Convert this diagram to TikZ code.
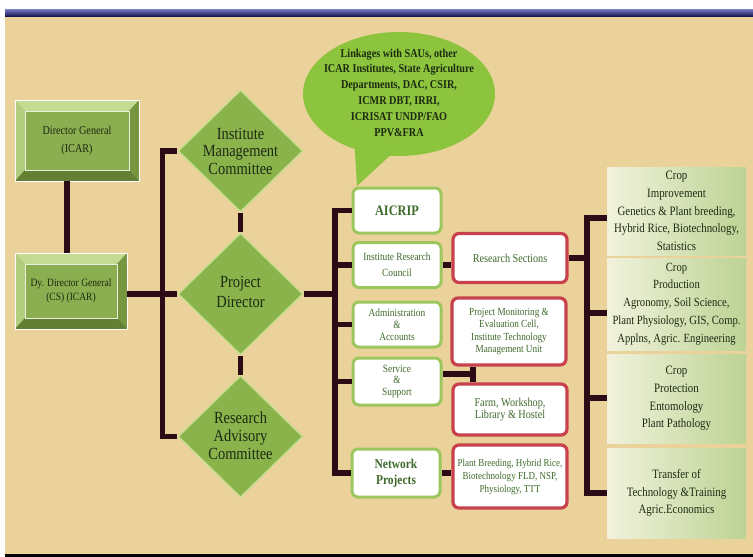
\documentclass[tikz,border=0pt]{standalone}
\usepackage{fontspec}
\setmainfont{Liberation Serif}[FakeStretch=0.85]
\usetikzlibrary{shapes.geometric,shapes.callouts}
\definecolor{bg}{HTML}{EBD29B}
\definecolor{barlight}{HTML}{7C7ECB}
\definecolor{bardark}{HTML}{17174E}
\definecolor{dmfill}{HTML}{8AB34C}
\definecolor{dmline}{HTML}{C9DD8E}
\definecolor{bubble}{HTML}{8CC43E}
\definecolor{dgfill}{HTML}{8BAE50}
\definecolor{bevtop}{HTML}{C4DB94}
\definecolor{bevleft}{HTML}{B2CD7E}
\definecolor{bevright}{HTML}{76973F}
\definecolor{bevbot}{HTML}{637F33}
\definecolor{conn}{HTML}{2B0B16}
\definecolor{gline}{HTML}{9CC75E}
\definecolor{rline}{HTML}{C8414C}
\definecolor{tdark}{HTML}{1C2A12}
\definecolor{tgreen}{HTML}{3E6A2A}
\definecolor{rbl}{HTML}{F1F2DC}
\definecolor{rbr}{HTML}{BDD394}
\newcommand{\fs}[2]{\fontsize{#1}{#2}\selectfont}
\tikzset{
  connline/.style={draw=conn, line width=5.5pt, line join=miter},
  dgbox/.style={rectangle, draw=white, line width=0.8pt, fill=dgfill, inner sep=0pt, align=center, text=tdark,
    path picture={
      \fill[bevtop] (path picture bounding box.north west) -- (path picture bounding box.north east)
        -- ([shift={(-10pt,-11pt)}]path picture bounding box.north east) -- ([shift={(10pt,-11pt)}]path picture bounding box.north west) -- cycle;
      \fill[bevleft] (path picture bounding box.north west) -- (path picture bounding box.south west)
        -- ([shift={(10pt,11pt)}]path picture bounding box.south west) -- ([shift={(10pt,-11pt)}]path picture bounding box.north west) -- cycle;
      \fill[bevright] (path picture bounding box.north east) -- (path picture bounding box.south east)
        -- ([shift={(-10pt,11pt)}]path picture bounding box.south east) -- ([shift={(-10pt,-11pt)}]path picture bounding box.north east) -- cycle;
      \fill[bevbot] (path picture bounding box.south west) -- (path picture bounding box.south east)
        -- ([shift={(-10pt,11pt)}]path picture bounding box.south east) -- ([shift={(10pt,11pt)}]path picture bounding box.south west) -- cycle;
      \draw[white!80!dgfill, line width=0.6pt] ([shift={(10pt,-11pt)}]path picture bounding box.north west) rectangle ([shift={(-10pt,11pt)}]path picture bounding box.south east);
    }},
  dmnd/.style={diamond, fill=dmfill, draw=dmline, line width=1.5pt, minimum width=125pt, minimum height=122pt, inner sep=0pt},
  dmtext/.style={align=center, text=tdark},
  gbox/.style={rectangle, rounded corners=6pt, draw=gline, line width=3pt, fill=white, minimum width=88pt, inner sep=0pt, align=center, text=tgreen},
  rbox/.style={rectangle, rounded corners=6pt, draw=rline, line width=3.2pt, fill=white, minimum width=114pt, inner sep=0pt, align=center, text=tgreen},
  sbox/.style={rectangle, left color=rbl, right color=rbr, minimum width=139pt, inner sep=0pt, align=center, text=tdark}
}
\begin{document}
\begin{tikzpicture}[x=1pt,y=-1pt]
\useasboundingbox (0,0) rectangle (753,557);
\fill[white] (0,0) rectangle (753,557);
\fill[bg] (5,16) rectangle (753,554);
\shade[top color=barlight, bottom color=bardark] (5,9) rectangle (753,16);
\fill[black] (5,554) rectangle (753,557);

% left boxes
\node[dgbox, minimum width=124pt, minimum height=81pt, font=\fs{12}{18}] (DG) at (77,140.5)
  {Director General\\(ICAR)};
\node[dgbox, minimum width=112pt, minimum height=76pt, font=\fs{11.2}{14}] (DDG) at (71,291)
  {Dy. Director General\\(CS) (ICAR)};

% diamonds
\node[dmnd, label={[dmtext, name=IMCt, font=\fs{17}{17.5}]center:{Institute\\Management\\Committee}}] (IMC) at (240.5,151) {};
\node[dmnd, label={[dmtext, name=PDt, yshift=2pt, font=\fs{17}{20}]center:{Project\\Director}}] (PD) at (240.5,294) {};
\node[dmnd, label={[dmtext, name=RACt, yshift=1pt, font=\fs{17}{18}]center:{Research\\Advisory\\Committee}}] (RAC) at (240.5,436.5) {};

% bubble
\node[ellipse callout, fill=bubble, minimum width=192pt, minimum height=124pt, callout absolute pointer={(357,186)}, callout pointer arc=22,
  label={[align=center, text=tdark, name=BUBt, yshift=1.5pt, font=\bfseries\fs{12}{15.8}]center:{Linkages with SAUs, other\\ICAR Institutes, State Agriculture\\Departments, DAC, CSIR,\\ICMR DBT, IRRI,\\ICRISAT UNDP/FAO\\PPV\&FRA}}] (BUB) at (399,94) {};

% green boxes
\node[gbox, minimum height=45pt, font=\bfseries\fs{14.5}{16}] (AIC) at (397,210.5) {AICRIP};
\node[gbox, minimum height=45pt, font=\fs{11}{16}] (IRC) at (397,265) {Institute Research\\Council};
\node[gbox, minimum height=45pt, font=\fs{11}{12}] (ADM) at (397,324.5) {Administration\\\&\\Accounts};
\node[gbox, minimum height=47pt, font=\fs{11}{11.5}] (SER) at (397,381.5) {Service\\\&\\Support};
\node[gbox, minimum height=48pt, font=\bfseries\fs{13.5}{16}] (NP) at (396,473) {Network\\Projects};

% red boxes
\node[rbox, minimum height=49pt, font=\fs{12}{14}] (RS) at (510,258) {Research Sections};
\node[rbox, minimum height=67pt, font=\fs{10.8}{12.3}] (PMEC) at (509,331.5) {Project Monitoring \&\\Evaluation Cell,\\Institute Technology\\Management Unit};
\node[rbox, minimum height=51pt, font=\fs{12}{12.5}] (FARM) at (510,409.5) {Farm, Workshop,\\Library \& Hostel};
\node[rbox, minimum height=63pt, font=\fs{10.6}{13}] (PB) at (510,476.5) {Plant Breeding, Hybrid Rice,\\Biotechnology FLD, NSP,\\Physiology, TTT};

% right boxes
\node[sbox, minimum height=88pt, font=\fs{12.8}{17.7}] (CI) at (676.5,211) {Crop\\Improvement\\Genetics \& Plant breeding,\\Hybrid Rice, Biotechnology,\\Statistics};
\node[sbox, minimum height=92pt, font=\fs{12.5}{17.8}] (CPD) at (676.5,304) {Crop\\Production\\Agronomy, Soil Science,\\Plant Physiology, GIS, Comp.\\Applns, Agric. Engineering};
\node[sbox, minimum height=89pt, font=\fs{12.8}{17.7}] (CPT) at (676.5,398.5) {Crop\\Protection\\Entomology\\Plant Pathology};
\node[sbox, minimum height=90pt, font=\fs{12.8}{17.5}] (TT) at (676.5,493) {Transfer of\\Technology \&Training\\Agric.Economics};

% coordinates
\coordinate (mb) at (335,0);
\coordinate (sj) at (473,374);
\coordinate (r1) at (587,218);
\coordinate (r2) at (587,313);
\coordinate (r3) at (587,398);
\coordinate (r4) at (587,493);

% connectors
\draw[connline] ([xshift=-10pt]DG.south) -- ([xshift=-10pt]DG.south |- DDG.north);
\draw[connline] (DDG.east |- PD.west) -- (PD.west);
\draw[connline] (IMC.west) -- ++(-15,0) |- (RAC.west);
\draw[connline] (IMC.south) -- (PD.north);
\draw[connline] (PD.south) -- (RAC.north);
\draw[connline] (PD.east) -- (PD.east -| mb);
\draw[connline] (AIC.west) -- (AIC.west -| mb) -- (NP.west -| mb) -- (NP.west);
\draw[connline] (IRC.west) -- (IRC.west -| mb);
\draw[connline] (ADM.west) -- (ADM.west -| mb);
\draw[connline] (SER.west) -- (SER.west -| mb);
\draw[connline] (IRC.east) -- (IRC.east -| RS.west);
\draw[connline] (SER.east |- sj) -- (sj);
\draw[connline] (PMEC.south -| sj) -- (FARM.north -| sj);
\draw[connline] (NP.east) -- (NP.east -| PB.west);
\draw[connline] (RS.east) -- (RS.east -| r1);
\draw[connline] (r1 -| CI.west) -- (r1) -- (r4) -- (r4 -| TT.west);
\draw[connline] (r2) -- (r2 -| CPD.west);
\draw[connline] (r3) -- (r3 -| CPT.west);
\end{tikzpicture}
\end{document}
